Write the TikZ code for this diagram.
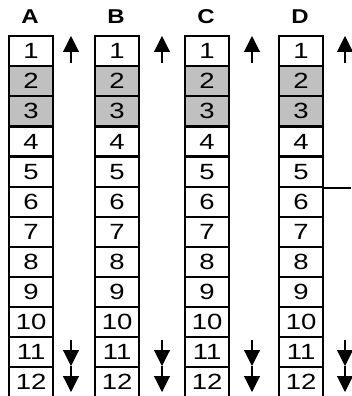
\documentclass[tikz,border=0pt]{standalone}
\usepackage{fontspec}
\setmainfont{Liberation Sans}
\usetikzlibrary{arrows.meta}
\definecolor{shade}{RGB}{192,192,192}
\newcommand{\widetxt}[1]{\scalebox{1.25}[1]{#1}}
\tikzset{
  cell/.style={draw=black, line width=2.2pt, minimum width=44pt, minimum height=30.1pt, inner sep=0pt, font=\fontsize{22}{22}\selectfont, anchor=north west},
  shaded/.style={cell, fill=shade},
  head/.style={font=\fontsize{20}{20}\selectfont\bfseries, inner sep=0pt},
  arr/.style={line width=1.1pt, -{Triangle[width=16pt,length=16pt]}},
}
\begin{document}
\begin{tikzpicture}[x=1pt,y=-1pt]
\useasboundingbox (0,0) rectangle (351,396);
\foreach \col/\x/\ax in {A/8/71,B/94/162,C/184/252,D/278/345}{
  \node[head] (h\col) at (\x+22,17) {\scalebox{1.2}[1]{\col}};
  \foreach \r in {1,...,12}{
    \ifnum\r=2 \def\sty{shaded}\else\ifnum\r=3 \def\sty{shaded}\else\def\sty{cell}\fi\fi
    \node[\sty] (\col\r) at (\x,{35+(\r-1)*30.1}) {\widetxt{\r}};
  }
  \coordinate (u\col a) at (\ax,63);
  \coordinate (u\col b) at (\ax,36);
  \draw[arr] (u\col a) -- (u\col b);
  \coordinate (d\col a) at (\ax,340);
  \coordinate (d\col b) at (\ax,366);
  \draw[arr] (d\col a) -- (d\col b);
  \coordinate (e\col a) at (\ax,366);
  \coordinate (e\col b) at (\ax,392);
  \draw[arr] (e\col a) -- (e\col b);
}
\coordinate (Dend) at (351,0);
\draw[line width=1.8pt] (D5.south east) -- (D5.south east -| Dend);
\end{tikzpicture}
\end{document}
